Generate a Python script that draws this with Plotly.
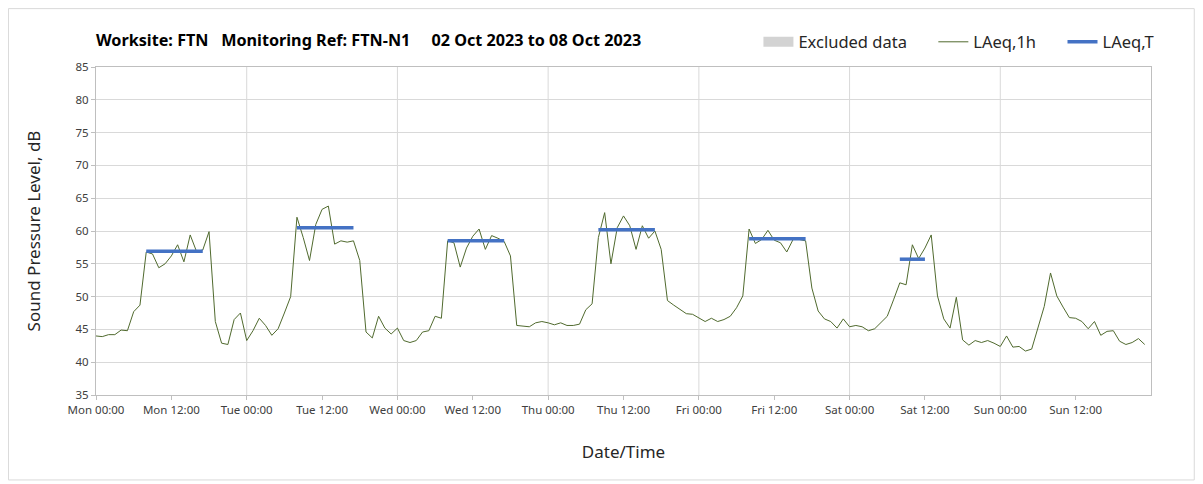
import pandas as pd
import plotly.graph_objects as go

# hourly LAeq,1h readings, Mon 02 Oct 2023 00:00 onwards
laeq_1h = [
    44.0, 43.9, 44.2, 44.2, 44.9, 44.8, 47.7, 48.7, 56.8, 56.5, 54.4, 55.0,
    56.2, 57.9, 55.3, 59.4, 56.9, 57.1, 59.9, 46.2, 42.9, 42.7, 46.5, 47.5,
    43.3, 44.8, 46.7, 45.6, 44.1, 45.1, 47.5, 50.0, 62.1, 59.0, 55.5, 61.0,
    63.3, 63.8, 58.0, 58.5, 58.3, 58.5, 55.5, 44.6, 43.7, 47.0, 45.2, 44.3,
    45.2, 43.3, 43.0, 43.3, 44.6, 44.8, 47.0, 46.7, 58.5, 58.2, 54.5, 57.4,
    59.2, 60.3, 57.2, 59.3, 58.9, 58.4, 56.2, 45.6, 45.5, 45.4, 46.0, 46.2,
    46.0, 45.7, 46.0, 45.6, 45.6, 45.8, 48.0, 48.9, 59.0, 62.8, 55.0, 60.5,
    62.3, 60.8, 57.2, 60.8, 58.9, 60.0, 57.2, 49.4, 48.7, 48.0, 47.4, 47.3,
    46.8, 46.2, 46.7, 46.2, 46.5, 47.0, 48.3, 50.1, 60.3, 58.1, 58.7, 60.1,
    58.6, 58.2, 56.8, 58.7, 58.7, 58.5, 51.3, 47.8, 46.6, 46.2, 45.2, 46.6,
    45.4, 45.6, 45.4, 44.8, 45.1, 46.0, 47.0, 49.5, 52.1, 51.8, 57.9, 55.8,
    57.4, 59.4, 50.1, 46.6, 45.2, 49.9, 43.4, 42.6, 43.3, 43.0, 43.3, 42.9,
    42.4, 44.0, 42.3, 42.4, 41.7, 42.0, 45.2, 48.5, 53.6, 50.1, 48.4, 46.8,
    46.7, 46.2, 45.1, 46.2, 44.1, 44.7, 44.8, 43.2, 42.7, 43.0, 43.6, 42.7,
]

# period LAeq,T (08:00 - 18:00 weekdays, 08:00 - 13:00 Saturday)
period_days = ["2023-10-02", "2023-10-03", "2023-10-04", "2023-10-05", "2023-10-06", "2023-10-07"]
period_hours = [10, 10, 10, 10, 10, 5]
laeq_t = [56.9, 60.5, 58.5, 60.2, 58.8, 55.7]

times = pd.date_range("2023-10-02 00:00", periods=len(laeq_1h), freq="h")
tick_times = pd.date_range("2023-10-02 00:00", periods=14, freq="12h")

gap = "\u00a0" * 5

fig = go.Figure()

# nothing excluded this week - legend entry only
fig.add_trace(go.Scatter(x=[times[0]], y=[None], mode="lines",
                         name="Excluded data" + gap,
                         line=dict(color="#d3d3d3", width=10)))

fig.add_trace(go.Scatter(x=times, y=laeq_1h, mode="lines", name="LAeq,1h" + gap,
                         line=dict(color="#506a2e", width=1)))

tx, ty = [], []
for day, n, val in zip(period_days, period_hours, laeq_t):
    for t in pd.date_range(pd.Timestamp(day) + pd.Timedelta(hours=8), periods=n, freq="h"):
        tx.append(t)
        ty.append(val)
    tx.append(None)
    ty.append(None)
fig.add_trace(go.Scatter(x=tx, y=ty, mode="lines", name="LAeq,T",
                         line=dict(color="#4472c4", width=3.5)))

# vertical grid every day
for d in pd.date_range("2023-10-03", "2023-10-08", freq="D"):
    fig.add_shape(type="line", x0=d, x1=d, y0=0, y1=1, xref="x", yref="paper",
                  line=dict(color="#d9d9d9", width=1), layer="below")

# chart border
fig.add_shape(type="rect", xref="paper", yref="paper", x0=-0.083, x1=1.041,
              y0=-0.259, y1=1.178, line=dict(color="#d9d9d9", width=1))

tick_font = dict(family="Noto Sans", size=11.5, color="#404040")

fig.update_layout(
    width=1195, height=476,
    margin=dict(l=88, r=52, t=59, b=89),
    plot_bgcolor="white", paper_bgcolor="white",
    font=dict(family="Noto Sans", color="#262626"),
    title=dict(
        text="<b>Worksite: FTN\u00a0\u00a0\u00a0Monitoring Ref: FTN-N1\u00a0\u00a0\u00a0\u00a0\u00a002 Oct 2023 to 08 Oct 2023</b>",
        x=0, xref="paper", xanchor="left", y=0.933, yanchor="middle",
        font=dict(family="Noto Sans", size=16.2, color="black")),
    legend=dict(orientation="h", x=1.008, xanchor="right", y=1.076, yanchor="middle",
                font=dict(family="Noto Sans", size=16.5, color="#262626"),
                itemwidth=30, bgcolor="rgba(0,0,0,0)"),
    xaxis=dict(
        type="date",
        range=["2023-10-02 00:00", "2023-10-09 00:00"],
        tickvals=tick_times, tickformat="%a %H:%M",
        showgrid=False, ticks="outside", ticklen=4, tickcolor="#bfbfbf",
        showline=True, linecolor="#bfbfbf", mirror=True,
        tickfont=tick_font,
        title=dict(text="Date/Time", font=dict(size=17, color="#262626"), standoff=30),
    ),
    yaxis=dict(
        range=[35, 85], dtick=5, showgrid=True, gridcolor="#d9d9d9",
        ticks="outside", ticklen=4, tickcolor="#bfbfbf",
        showline=True, linecolor="#bfbfbf", mirror=True, zeroline=False,
        tickfont=tick_font,
        title=dict(text="Sound Pressure Level, dB", font=dict(size=17, color="#262626"), standoff=30),
    ),
)

fig.write_html("out.html")
